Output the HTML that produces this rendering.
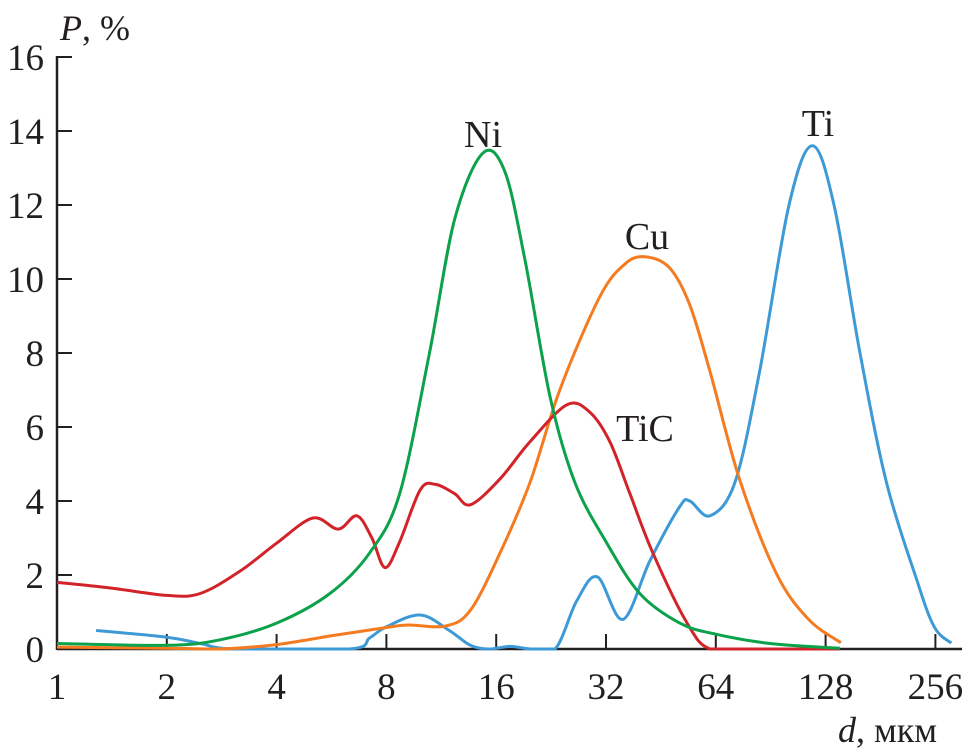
<!DOCTYPE html>
<html><head><meta charset="utf-8"><style>
html,body{margin:0;padding:0;background:#fff;}
svg{display:block;font-family:"Liberation Serif","Times New Roman",serif;}
</style></head><body>
<svg id="chart" width="970" height="754" viewBox="0 0 970 754" xmlns="http://www.w3.org/2000/svg">
<g id="axes"></g>
<g id="series"></g>
<g id="labels"></g>
</svg>
<script>
const xTicks = [1,2,4,8,16,32,64,128,256];
const yTicks = [0,2,4,6,8,10,12,14,16];
const niD = [1,2,2.8,4,5.6,7.2,8.7,10.5,12.3,14.7,16.9,19.2,22.5,26.3,32,39.6,51,64,90,140];
const niP = [0.15,0.1,0.25,0.7,1.5,2.6,4.2,8,11.6,13.4,12.9,10.5,6.8,4.5,2.9,1.5,0.7,0.4,0.15,0.02];
const ticD = [1,1.4,2,2.47,3.17,4,5.03,5.9,6.64,7.3,7.93,8.7,9.9,10.9,12.3,13.6,16.4,19.8,25,28.9,32.8,37.2,43,53.4,61.7,80,140];
const ticP = [1.8,1.65,1.45,1.5,2.1,2.86,3.54,3.24,3.6,3.0,2.2,2.9,4.3,4.45,4.2,3.9,4.6,5.6,6.6,6.4,5.6,4.2,2.6,0.7,0,0,0];
const cuD = [1,2,2.8,4,5.6,8,9.2,11.6,13.6,16.4,19.8,23.9,30.7,36,40.9,47.8,54.3,61.7,74.3,93.7,115,141];
const cuP = [0.05,0.02,0,0.12,0.35,0.58,0.65,0.62,1.05,2.6,4.5,7,9.5,10.4,10.6,10.3,9.3,7.5,4.6,2.05,0.8,0.17];
const tiD = [1.28,2,2.47,3.07,6.35,7.2,8,9.9,11.9,13.6,15.3,17.5,19.8,23.2,26.6,30.3,35.6,42.3,51,54.3,61.7,72.2,84.4,101.6,117.8,135,159,188,227,254,283];
const tiP = [0.5,0.32,0.15,0,0,0.3,0.6,0.92,0.5,0.1,0,0.07,0,0,1.3,1.95,0.8,2.4,3.85,4.0,3.6,4.5,7.5,12,13.6,12,8,4.5,1.9,0.6,0.16];

const X0=57, OCT=109.8, Y0=649, PU=37;
function xs(d){return X0+Math.log2(d)*OCT;}
function ys(p){return Y0-p*PU;}
const NS="http://www.w3.org/2000/svg";
function mk(tag,attrs,parent){const e=document.createElementNS(NS,tag);for(const k in attrs)e.setAttribute(k,attrs[k]);parent.appendChild(e);return e;}
const axes=document.getElementById('axes'), series=document.getElementById('series'), labels=document.getElementById('labels');

let a=mk('line',{x1:X0,y1:Y0,x2:962,y2:Y0,stroke:'#231f20','stroke-width':2.5},axes);


a=mk('line',{x1:X0,y1:Y0+1,x2:X0,y2:56,stroke:'#231f20','stroke-width':2.5},axes);


xTicks.forEach(t=>{
  const x=xs(t);
  if(t>1){const l=mk('line',{x1:x,y1:Y0,x2:x,y2:Y0-15,stroke:'#231f20','stroke-width':2},axes);
  
  }
  const tx=mk('text',{x:x,y:699,'font-size':37,'text-anchor':'middle',fill:'#231f20'},axes);
  tx.textContent=t;
  
  
});
yTicks.forEach(t=>{
  const y=ys(t);
  if(t>0){const l=mk('line',{x1:X0,y1:y,x2:X0+15,y2:y,stroke:'#231f20','stroke-width':2},axes);
  
  }
  const tx=mk('text',{x:44,y:y+13,'font-size':37,'text-anchor':'end',fill:'#231f20'},axes);
  tx.textContent=t;
  
  
});

function smooth(pts){
  let d='M'+pts[0][0].toFixed(1)+','+pts[0][1].toFixed(1);
  for(let i=0;i<pts.length-1;i++){
    const p0=pts[Math.max(0,i-1)],p1=pts[i],p2=pts[i+1],p3=pts[Math.min(pts.length-1,i+2)];
    const c1=[p1[0]+(p2[0]-p0[0])/6,Math.min(Y0,p1[1]+(p2[1]-p0[1])/6)];
    const c2=[p2[0]-(p3[0]-p1[0])/6,Math.min(Y0,p2[1]-(p3[1]-p1[1])/6)];
    d+='C'+c1[0].toFixed(1)+','+c1[1].toFixed(1)+' '+c2[0].toFixed(1)+','+c2[1].toFixed(1)+' '+p2[0].toFixed(1)+','+p2[1].toFixed(1);
  }
  return d;
}
function draw(D,P,color,name){
  const pts=D.map((d,i)=>[xs(d),ys(P[i])]);
  const p=mk('path',{d:smooth(pts),fill:'none',stroke:color,'stroke-width':3,'stroke-linejoin':'round'},series);
  
  
}
draw(tiD,tiP,'#3d9ad6','ti-curve');
draw(cuD,cuP,'#f47b20','cu-curve');
draw(ticD,ticP,'#d2232a','tic-curve');
draw(niD,niP,'#0ba24b','ni-curve');

function lab(x,y,txt,name,anchor){
  const t=mk('text',{x:x,y:y,'font-size':38,'text-anchor':anchor||'middle',fill:'#231f20'},labels);
  t.textContent=txt;
  
  
}
lab(483,147,'Ni','label-ni');
lab(647,249,'Cu','label-cu');
lab(645,441,'TiC','label-tic');
lab(818,136,'Ti','label-ti');
let t=mk('text',{x:60,y:40,'font-size':36,fill:'#231f20'},labels);
t.innerHTML='<tspan font-style="italic">P</tspan>, %';


t=mk('text',{x:937,y:742,'font-size':36,'text-anchor':'end',fill:'#231f20'},labels);
t.innerHTML='<tspan font-style="italic">d</tspan>, мкм';


</script>
</body></html>
